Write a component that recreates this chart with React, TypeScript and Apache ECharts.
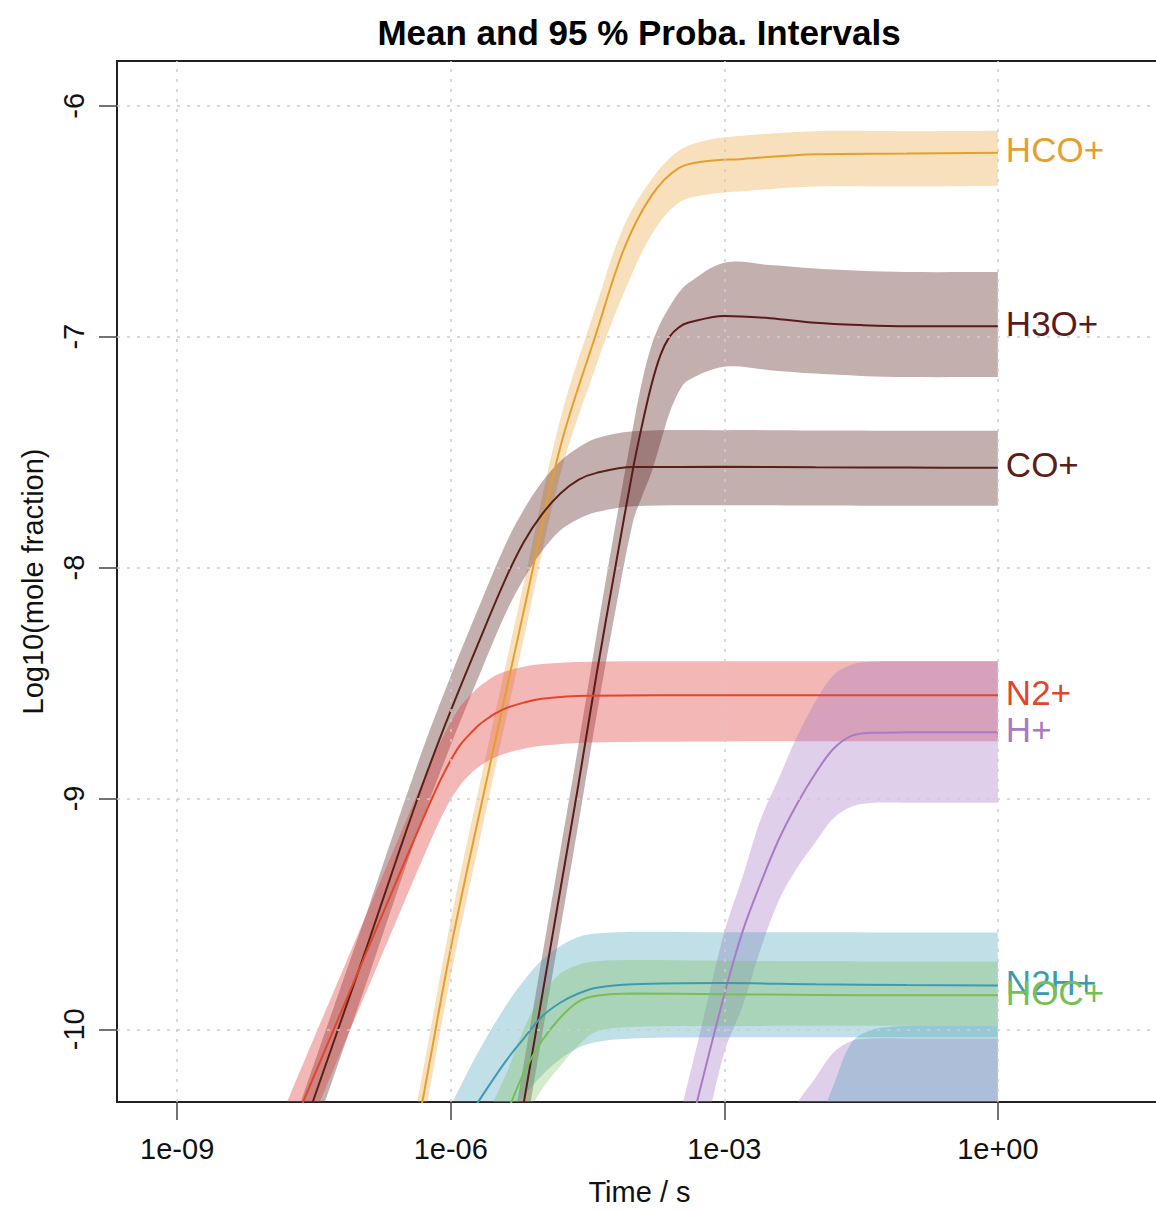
import React, { useEffect, useRef } from "react";
import * as echarts from "echarts";

const FONT = "'Liberation Sans', Arial, Helvetica, sans-serif";
const SMOOTH = 0.35;

const xTickValues = [-9, -6, -3, 0];
const xTickLabels = ["1e-09", "1e-06", "1e-03", "1e+00"];
const yTickValues = [-10, -9, -8, -7, -6];

// log10(time / s) and log10(mole fraction): mean, upper (97.5%) and lower (2.5%) bounds
const hcoT = [-6.6, -6.3, -6.0, -5.6, -5.2, -4.8, -4.4, -4.1, -3.8, -3.5, -3.2, -2.8, -2.0, -1.0, 0];
const hcoMean = [-10.91, -10.29, -9.65, -8.91, -8.19, -7.48, -6.98, -6.62, -6.39, -6.27, -6.24, -6.23, -6.21, -6.207, -6.203];
const hcoHi = [-10.79, -10.17, -9.53, -8.79, -8.07, -7.36, -6.86, -6.52, -6.32, -6.195, -6.15, -6.13, -6.11, -6.11, -6.108];
const hcoLo = [-11.03, -10.41, -9.77, -9.03, -8.31, -7.6, -7.12, -6.81, -6.56, -6.42, -6.385, -6.37, -6.35, -6.35, -6.346];

const h3oT = [-5.3, -5.0, -4.8, -4.6, -4.4, -4.2, -4.0, -3.9, -3.8, -3.7, -3.6, -3.5, -3.4, -3.0, -2.5, -2.0, -1.5, -1.0, 0];
const h3oMean = [-10.55, -9.86, -9.4, -8.94, -8.46, -8.01, -7.57, -7.38, -7.21, -7.08, -7.0, -6.96, -6.94, -6.91, -6.92, -6.94, -6.95, -6.955, -6.955];
const h3oHi = [-10.38, -9.69, -9.23, -8.77, -8.29, -7.83, -7.39, -7.19, -7.04, -6.94, -6.87, -6.81, -6.77, -6.68, -6.69, -6.705, -6.715, -6.72, -6.72];
const h3oLo = [-10.72, -10.03, -9.57, -9.11, -8.64, -8.2, -7.8, -7.69, -7.59, -7.46, -7.33, -7.24, -7.19, -7.13, -7.145, -7.16, -7.17, -7.175, -7.175];

const coT = [-7.8, -7.5, -7.2, -6.9, -6.6, -6.3, -6.0, -5.7, -5.4, -5.2, -5.0, -4.8, -4.6, -4.4, -4.0, -3.0, -2.0, -1.0, 0];
const coMean = [-10.64, -10.3, -9.96, -9.62, -9.27, -8.93, -8.62, -8.33, -8.05, -7.89, -7.77, -7.68, -7.62, -7.59, -7.565, -7.564, -7.566, -7.567, -7.568];
const coHi = [-10.49, -10.15, -9.81, -9.47, -9.12, -8.78, -8.47, -8.18, -7.9, -7.75, -7.63, -7.54, -7.48, -7.44, -7.41, -7.405, -7.406, -7.407, -7.408];
const coLo = [-10.79, -10.45, -10.11, -9.77, -9.42, -9.08, -8.77, -8.48, -8.2, -8.05, -7.93, -7.84, -7.79, -7.76, -7.735, -7.73, -7.731, -7.732, -7.732];

const n2T = [-8.0, -7.7, -7.4, -7.1, -6.8, -6.5, -6.3, -6.2, -6.1, -6.0, -5.9, -5.8, -5.7, -5.6, -5.5, -5.4, -5.2, -5.0, -4.5, -3.0, 0];
const n2Mean = [-10.67, -10.39, -10.11, -9.83, -9.55, -9.27, -9.085, -8.995, -8.91, -8.835, -8.77, -8.725, -8.685, -8.655, -8.63, -8.61, -8.585, -8.568, -8.555, -8.553, -8.553];
const n2Hi = [-10.505, -10.225, -9.945, -9.665, -9.385, -9.105, -8.92, -8.83, -8.745, -8.67, -8.605, -8.56, -8.52, -8.49, -8.465, -8.45, -8.43, -8.418, -8.408, -8.406, -8.406];
const n2Lo = [-10.84, -10.56, -10.28, -10.0, -9.72, -9.44, -9.255, -9.165, -9.08, -9.005, -8.945, -8.9, -8.865, -8.84, -8.82, -8.805, -8.785, -8.772, -8.758, -8.753, -8.752];

const hT = [-3.6, -3.3, -3.0, -2.8, -2.6, -2.4, -2.2, -2.0, -1.8, -1.6, -1.4, -1.0, 0];
const hMean = [-10.8, -10.315, -9.85, -9.577, -9.366, -9.176, -9.022, -8.891, -8.784, -8.728, -8.716, -8.714, -8.713];
const hHi = [-10.55, -10.07, -9.58, -9.34, -9.09, -8.91, -8.73, -8.58, -8.465, -8.42, -8.408, -8.406, -8.406];
const hLo = [-11.05, -10.6, -10.1, -9.9, -9.65, -9.44, -9.3, -9.19, -9.085, -9.035, -9.02, -9.019, -9.019];

const n2hT = [-6.3, -6.0, -5.7, -5.4, -5.2, -5.0, -4.8, -4.6, -4.4, -4.0, -3.0, -2.0, -1.0, 0];
const n2hMean = [-10.69, -10.5, -10.315, -10.14, -10.04, -9.945, -9.885, -9.845, -9.82, -9.805, -9.8, -9.805, -9.808, -9.81];
const n2hHi = [-10.55, -10.33, -10.1, -9.9, -9.79, -9.7, -9.64, -9.6, -9.585, -9.578, -9.58, -9.58, -9.581, -9.581];
const n2hLo = [-10.95, -10.75, -10.56, -10.39, -10.29, -10.2, -10.13, -10.08, -10.055, -10.04, -10.035, -10.035, -10.035, -10.035];

const hocT = [-6.0, -5.7, -5.4, -5.2, -5.0, -4.8, -4.6, -4.4, -4.0, -3.0, -2.0, -1.0, 0];
const hocMean = [-11.0, -10.69, -10.38, -10.19, -10.05, -9.95, -9.88, -9.855, -9.845, -9.848, -9.851, -9.853, -9.853];
const hocHi = [-10.7, -10.45, -10.2, -10.0, -9.85, -9.76, -9.72, -9.705, -9.7, -9.703, -9.705, -9.706, -9.706];
const hocLo = [-11.3, -10.95, -10.6, -10.4, -10.26, -10.16, -10.07, -10.01, -9.99, -9.986, -9.985, -9.985, -9.985];

// two further species whose means lie below the plotted range (only band tops visible)
const low1T = [-2.5, -2.2, -2.0, -1.8, -1.6, -1.4, -1.0, 0];
const low1Hi = [-10.55, -10.32, -10.21, -10.1, -10.05, -10.04, -10.04, -10.04];
const low1Lo = [-11.6, -11.6, -11.6, -11.6, -11.6, -11.6, -11.6, -11.6];

const low2T = [-2.2, -2.0, -1.8, -1.6, -1.4, -1.2, -1.0, 0];
const low2Hi = [-10.62, -10.44, -10.24, -10.055, -10.005, -9.99, -9.986, -9.985];
const low2Lo = [-11.6, -11.6, -11.6, -11.6, -11.6, -11.6, -11.6, -11.6];

type Species = {
  name: string;
  color: string;
  band: string;
  t: number[];
  mean: number[] | null;
  hi: number[];
  lo: number[];
};

const species: Species[] = [
  { name: "HCO+", color: "#E69F2E", band: "rgba(232,160,50,0.33)", t: hcoT, mean: hcoMean, hi: hcoHi, lo: hcoLo },
  { name: "H3O+", color: "#5C1A1A", band: "rgba(95,38,38,0.37)", t: h3oT, mean: h3oMean, hi: h3oHi, lo: h3oLo },
  { name: "CO+", color: "#5A2016", band: "rgba(95,38,38,0.37)", t: coT, mean: coMean, hi: coHi, lo: coLo },
  { name: "N2+", color: "#E2452D", band: "rgba(222,56,52,0.36)", t: n2T, mean: n2Mean, hi: n2Hi, lo: n2Lo },
  { name: "H+", color: "#A87BC4", band: "rgba(168,123,196,0.36)", t: hT, mean: hMean, hi: hHi, lo: hLo },
  { name: "N2H+", color: "#3E9AB1", band: "rgba(62,154,177,0.32)", t: n2hT, mean: n2hMean, hi: n2hHi, lo: n2hLo },
  { name: "HOC+", color: "#78BE56", band: "rgba(120,190,86,0.30)", t: hocT, mean: hocMean, hi: hocHi, lo: hocLo },
  { name: "low-1", color: "#A87BC4", band: "rgba(168,123,196,0.36)", t: low1T, mean: null, hi: low1Hi, lo: low1Lo },
  { name: "low-2", color: "#3E9AB1", band: "rgba(62,154,177,0.32)", t: low2T, mean: null, hi: low2Hi, lo: low2Lo },
];

// Same control-point rule as ECharts' smoothed line, applied to pixel points
function bezierSegments(p: number[][], s: number): string {
  const n = p.length;
  const ctrl = (i: number) => {
    const prev = p[Math.max(i - 1, 0)];
    const next = p[Math.min(i + 1, n - 1)];
    const vx = next[0] - prev[0];
    const vy = next[1] - prev[1];
    const d0 = Math.hypot(p[i][0] - prev[0], p[i][1] - prev[1]);
    const d1 = Math.hypot(next[0] - p[i][0], next[1] - p[i][1]);
    const r = d0 + d1 > 0 ? d1 / (d0 + d1) : 0.5;
    return {
      after: [p[i][0] + vx * s * r, p[i][1] + vy * s * r],
      before: [p[i][0] - vx * s * (1 - r), p[i][1] - vy * s * (1 - r)],
    };
  };
  let d = "";
  for (let i = 0; i < n - 1; i++) {
    const a = ctrl(i).after;
    const b = ctrl(i + 1).before;
    d += ` C${a[0].toFixed(2)},${a[1].toFixed(2)} ${b[0].toFixed(2)},${b[1].toFixed(2)} ${p[i + 1][0].toFixed(2)},${p[i + 1][1].toFixed(2)}`;
  }
  return d;
}

export default function App() {
  const ref = useRef<HTMLDivElement>(null);

  useEffect(() => {
    if (!ref.current) return;
    const chart = echarts.init(ref.current, undefined, { renderer: "svg" });
    const series: any[] = [];
    const gridLineStyle = { color: "#cdcdcd", width: 1.5, type: [3, 7] };

    species.forEach((sp, k) => {
      series.push({
        type: "custom",
        name: sp.name + " band",
        clip: true,
        silent: true,
        data: sp.t.map((t, i) => [t, sp.lo[i], sp.hi[i]]),
        encode: { x: 0, y: [1, 2] },
        renderItem: (params: any, api: any) => {
          if (params.dataIndex !== 0) return null;
          const up = sp.t.map((t, i) => api.coord([t, sp.hi[i]]));
          const dn = sp.t.map((t, i) => api.coord([t, sp.lo[i]])).reverse();
          const d =
            `M${up[0][0].toFixed(2)},${up[0][1].toFixed(2)}` +
            bezierSegments(up, SMOOTH) +
            ` L${dn[0][0].toFixed(2)},${dn[0][1].toFixed(2)}` +
            bezierSegments(dn, SMOOTH) +
            " Z";
          return {
            type: "path",
            shape: { pathData: d },
            style: { fill: sp.band, stroke: null },
            silent: true,
          };
        },
      });
      if (sp.mean) {
        const m = sp.mean;
        const line: any = {
          type: "line",
          name: sp.name,
          data: sp.t.map((t, i) => [t, m[i]]),
          symbol: "none",
          smooth: SMOOTH,
          lineStyle: { color: sp.color, width: 2 },
          silent: true,
          endLabel: {
            show: true,
            formatter: () => sp.name,
            color: sp.color,
            fontSize: 35,
            fontFamily: FONT,
            distance: 8,
            offset: [0, -3],
          },
        };
        if (k === 0) {
          line.markLine = {
            silent: true,
            symbol: ["none", "none"],
            label: { show: false },
            lineStyle: gridLineStyle,
            data: [
              ...xTickValues.map((v) => ({ xAxis: v })),
              ...yTickValues.map((v) => ({ yAxis: v })),
            ],
          };
        }
        series.push(line);
      }
    });

    chart.setOption({
      animation: false,
      backgroundColor: "#ffffff",
      title: {
        text: "Mean and 95 % Proba. Intervals",
        left: "center",
        top: 15,
        padding: 0,
        textStyle: { fontSize: 35, fontWeight: "bold", fontFamily: FONT, color: "#000" },
      },
      grid: {
        left: 117,
        top: 61,
        width: 1045,
        height: 1044,
        show: true,
        borderColor: "#222",
        borderWidth: 2,
        backgroundColor: "transparent",
      },
      xAxis: {
        type: "value",
        min: -9.66,
        max: 1.8,
        name: "Time / s",
        nameLocation: "middle",
        nameGap: 75,
        nameTextStyle: { fontSize: 29, fontFamily: FONT, color: "#111" },
        axisLine: { show: false, onZero: false },
        axisTick: {
          show: true,
          customValues: xTickValues,
          length: 18,
          lineStyle: { color: "#444", width: 1.5 },
        },
        axisLabel: {
          customValues: xTickValues,
          formatter: (v: number) => xTickLabels[xTickValues.indexOf(Math.round(v))] ?? "",
          fontSize: 29,
          fontFamily: FONT,
          color: "#111",
          margin: 32,
        },
        splitLine: { show: false },
      },
      yAxis: {
        type: "value",
        min: -10.315,
        max: -5.806,
        name: "Log10(mole fraction)",
        nameLocation: "middle",
        nameGap: 70,
        nameRotate: 90,
        nameTextStyle: { fontSize: 29, fontFamily: FONT, color: "#111" },
        axisLine: { show: false, onZero: false },
        axisTick: {
          show: true,
          customValues: yTickValues,
          length: 18,
          lineStyle: { color: "#444", width: 1.5 },
        },
        axisLabel: {
          customValues: yTickValues,
          formatter: (v: number) => String(Math.round(v)),
          rotate: 90,
          fontSize: 29,
          fontFamily: FONT,
          color: "#111",
          margin: 29,
        },
        splitLine: { show: false },
      },
      series,
    });

    return () => {
      chart.dispose();
    };
  }, []);

  return (
    <div
      style={{
        position: "absolute",
        left: 0,
        top: 0,
        width: 1156,
        height: 1211,
        overflow: "hidden",
        background: "#fff",
      }}
    >
      <div
        style={{
          position: "absolute",
          left: 8,
          top: 7,
          width: 1400,
          height: 1400,
          borderLeft: "1px solid #d6d6d6",
          borderTop: "1px solid #d6d6d6",
        }}
      />
      <div ref={ref} style={{ position: "absolute", left: 0, top: 0, width: 1278, height: 1211 }} />
    </div>
  );
}
